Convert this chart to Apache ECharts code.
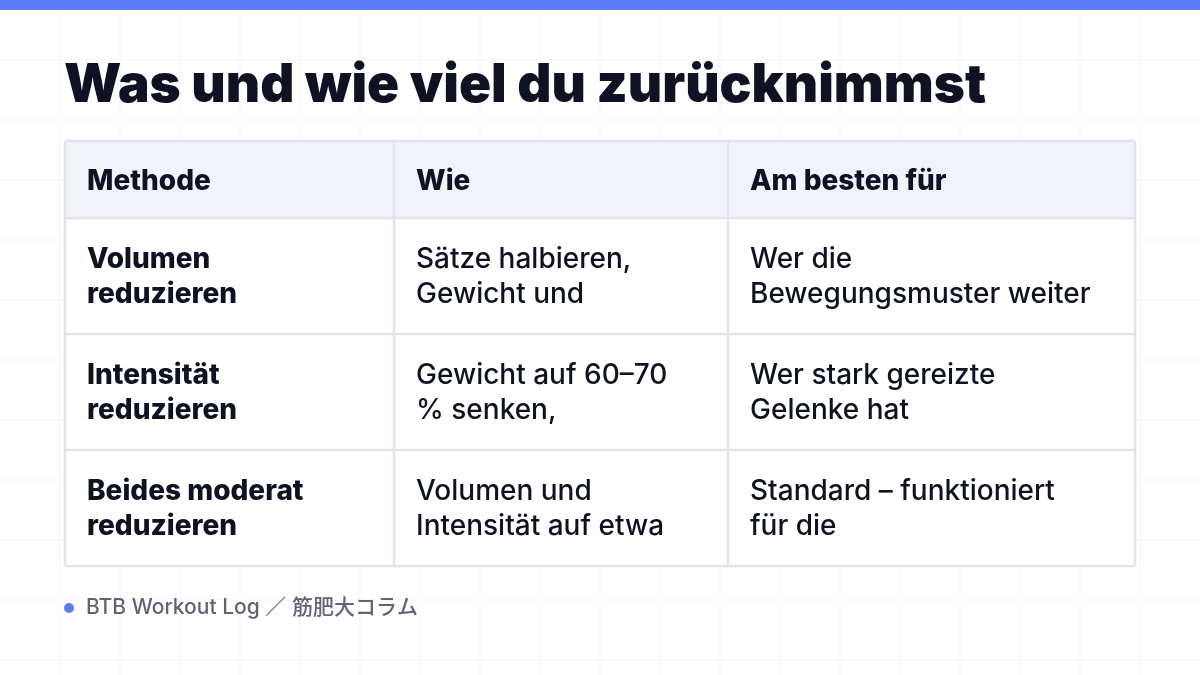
<!DOCTYPE html>
<html><head><meta charset="utf-8">
<script src="https://cdn.jsdelivr.net/npm/echarts@6/dist/echarts.min.js"></script>
<style>html,body{margin:0;padding:0;background:#fff}#c{width:1200px;height:675px}</style>
</head><body><div id="c"></div>
<script>
const title = 'Was und wie viel du zurücknimmst';
const headers = ['Methode', 'Wie', 'Am besten für'];
const methods = ['Volumen\nreduzieren', 'Intensität\nreduzieren', 'Beides moderat\nreduzieren'];
const hows = ['Sätze halbieren,\nGewicht und', 'Gewicht auf 60–70\n% senken,', 'Volumen und\nIntensität auf etwa'];
const bestFor = ['Wer die\nBewegungsmuster weiter', 'Wer stark gereizte\nGelenke hat', 'Standard – funktioniert\nfür die'];
const footer = 'BTB Workout Log ／ 筋肥大コラム';

const font = 'Inter, "Noto Sans CJK JP", sans-serif';
const colX = [65, 394, 728, 1135];
const rowY = [141, 218, 334, 450, 566];
const g = [];
for (let x = 60; x < 1200; x += 60) g.push({type:'line', shape:{x1:x,y1:0,x2:x,y2:675}, style:{stroke:'#f4f5f8',lineWidth:1}, z:0});
for (let y = 60; y < 675; y += 60) g.push({type:'line', shape:{x1:0,y1:y,x2:1200,y2:y}, style:{stroke:'#f4f5f8',lineWidth:1}, z:0});
g.push({type:'rect', shape:{x:0,y:0,width:1200,height:10}, style:{fill:'#5b7cf7'}, z:5});
g.push({type:'text', x:64, y:86, style:{text:title, font:'900 53px '+font, fill:'#0f1222', verticalAlign:'middle'}, z:5});
g.push({type:'rect', shape:{x:colX[0],y:rowY[0],width:colX[3]-colX[0],height:rowY[4]-rowY[0]}, style:{fill:'#fff'}, z:1});
g.push({type:'rect', shape:{x:colX[0],y:rowY[0],width:colX[3]-colX[0],height:rowY[1]-rowY[0]}, style:{fill:'#f1f3fb'}, z:2});
const cols = [methods, hows, bestFor];
headers.forEach((h,i)=>g.push({type:'text', x:colX[i]+22, y:(rowY[0]+rowY[1])/2+2, style:{text:h, font:'800 28px '+font, fill:'#0f1222', verticalAlign:'middle'}, z:5}));
for (let r = 0; r < 3; r++) {
  for (let c = 0; c < 3; c++) {
    g.push({type:'text', x:colX[c]+22, y:rowY[r+1]+24, style:{text:cols[c][r], font:(c===0?'800 ':'500 ')+'28px '+font, lineHeight:35, fill:'#0f1222', verticalAlign:'top'}, z:5});
  }
}
rowY.forEach(y=>g.push({type:'line', shape:{x1:colX[0],y1:y,x2:colX[3],y2:y}, style:{stroke:'#e1e4f0',lineWidth:2.5}, z:4}));
colX.forEach(x=>g.push({type:'line', shape:{x1:x,y1:rowY[0],x2:x,y2:rowY[4]}, style:{stroke:'#e1e4f0',lineWidth:2.5}, z:4}));
g.push({type:'circle', shape:{cx:69,cy:608,r:5}, style:{fill:'#5b7cf7'}, z:5});
g.push({type:'text', x:86, y:608, style:{text:footer, font:'500 21px '+font, fill:'#5f6473', verticalAlign:'middle'}, z:5});
const chart = echarts.init(document.getElementById('c'));
chart.setOption({animation:false, graphic:{elements:g}});
</script></body></html>
